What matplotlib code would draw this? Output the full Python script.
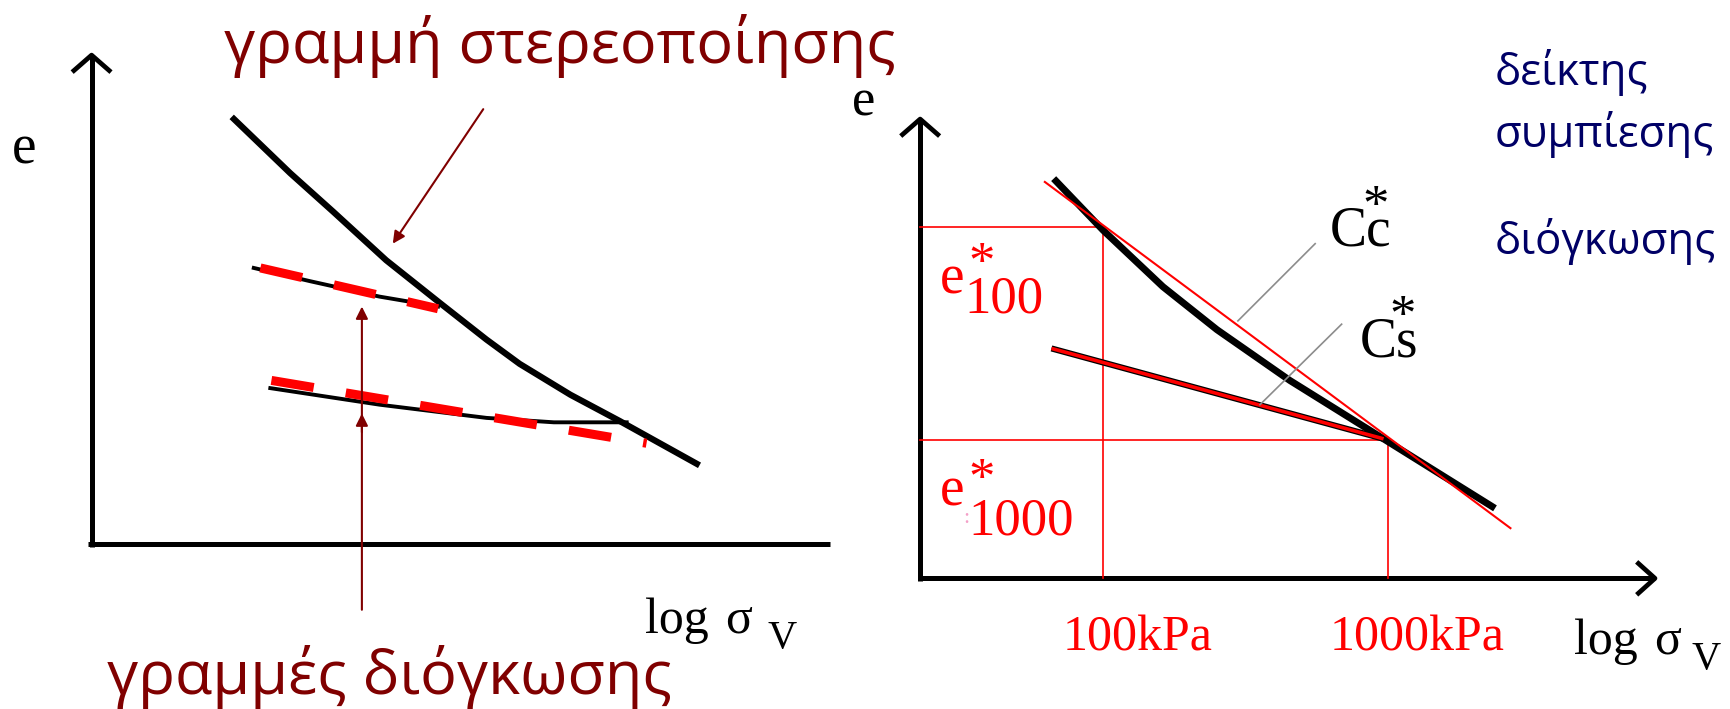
import matplotlib.pyplot as plt

# schematic drawn in a 1568 x 643 canvas frame (y grows downward)
W, H = 1568, 643

# left sketch: virgin compression line and two swelling lines
ncl_x = [210, 263, 302, 350, 399, 441, 471, 517, 562, 634]
ncl_y = [106, 157, 192, 236, 275, 308, 330, 358, 382, 422]
url_up_x = [230, 281, 344, 397]
url_up_y = [243, 255, 269, 278]
url_low_x = [245, 344, 441, 502, 568]
url_low_y = [352, 367, 379, 383, 383]
fit_up_x = [236, 397]
fit_up_y = [243, 280]
fit_low_x = [246, 586]
fit_low_y = [345, 402]

# right sketch
ncl2_x = [955, 1000, 1054, 1103, 1169, 1254, 1355]
ncl2_y = [162, 209, 260, 299, 345, 398, 461]
cc_fit_x = [947, 1369]
cc_fit_y = [165, 479]
url2_x = [953, 1254]
url2_y = [316, 398]
p100 = (1000, 206)
p1000 = (1258, 399)

title_top = 'γραμμή στερεοποίησης'
title_bottom = 'γραμμές διόγκωσης'
side_labels = ['δείκτης', 'συμπίεσης', 'διόγκωσης']
tick_labels = ['100kPa', '1000kPa']

darkred = '#800000'
navy = '#000066'
sans = ['Open Sans', 'DejaVu Sans']
serif = ['Liberation Serif', 'DejaVu Serif']

fig = plt.figure(figsize=(17.3, 7.09), dpi=100)
ax = fig.add_axes([0, 0, 1, 1])
ax.set_xlim(0, W)
ax.set_ylim(H, 0)
ax.axis('off')

# ---- left axes ----
ax.plot([83, 83], [496, 50], color='black', lw=3.6, solid_capstyle='butt')
ax.plot([80, 752], [493, 493], color='black', lw=3.6, solid_capstyle='butt')
ax.plot([67, 83, 99], [64, 50, 64], color='black', lw=3.4)

ax.plot(ncl_x, ncl_y, color='black', lw=4.5, solid_capstyle='butt')
ax.plot(url_up_x, url_up_y, color='black', lw=2.8)
ax.plot(url_low_x, url_low_y, color='black', lw=2.8)
ax.plot(fit_up_x, fit_up_y, color='red', lw=6.5, ls=(0, (4.75, 3.6)))
ax.plot(fit_low_x, fit_low_y, color='red', lw=6.5, ls=(0, (4.75, 3.6)))

ax.text(22, 148, 'e', family=serif, fontsize=40, ha='center', va='baseline')
ax.text(585, 574, 'log', family=serif, fontsize=36, ha='left', va='baseline')
ax.text(657, 574, 'σ', family=serif, fontsize=36, ha='left', va='baseline')
ax.text(696, 588, 'V', family=serif, fontsize=29, ha='left', va='baseline')

# annotation arrows
arrow_kw = dict(arrowstyle='-|>', color=darkred, lw=1.5,
                mutation_scale=18, shrinkA=0, shrinkB=0)
ax.annotate('', xy=(356, 221), xytext=(438, 99), arrowprops=arrow_kw)
ax.annotate('', xy=(328, 278), xytext=(328, 553), arrowprops=arrow_kw)
ax.annotate('', xy=(328, 375), xytext=(328, 392), arrowprops=arrow_kw)

ax.text(507, 57, title_top, family=sans, color=darkred, fontsize=44,
        ha='center', va='baseline')
ax.text(353, 629, title_bottom, family=sans, color=darkred, fontsize=44,
        ha='center', va='baseline')

# ---- right axes ----
ax.plot([834, 834], [527, 108], color='black', lw=3.6, solid_capstyle='butt')
ax.plot([832, 1500], [524.5, 524.5], color='black', lw=3.6, solid_capstyle='butt')
ax.plot([818, 834, 850], [122, 108, 122], color='black', lw=3.4)
ax.plot([1485, 1500, 1485], [511, 524.5, 538], color='black', lw=3.4)

# reference lines at 100 and 1000 kPa
ax.plot([834, p100[0], p100[0]], [p100[1], p100[1], 524], color='red', lw=1.2)
ax.plot([834, p1000[0], p1000[0]], [p1000[1], p1000[1], 524], color='red', lw=1.2)

ax.plot(ncl2_x, ncl2_y, color='black', lw=5, solid_capstyle='butt')
ax.plot(cc_fit_x, cc_fit_y, color='red', lw=1.5)
ax.plot(url2_x, url2_y, color='black', lw=4.4, solid_capstyle='butt')
ax.plot(url2_x, url2_y, color='red', lw=2.6, solid_capstyle='butt')

# leaders to the index labels
ax.plot([1192, 1122], [221, 291], color='#8c8c8c', lw=1.2)
ax.plot([1216, 1142], [294, 367], color='#8c8c8c', lw=1.2)

ax.text(783, 105, 'e', family=serif, fontsize=38, ha='center', va='baseline')
ax.text(1427, 593, 'log', family=serif, fontsize=36, ha='left', va='baseline')
ax.text(1499, 593, 'σ', family=serif, fontsize=36, ha='left', va='baseline')
ax.text(1533, 607, 'V', family=serif, fontsize=29, ha='left', va='baseline')

ax.text(1205, 223, 'Cc', family=serif, fontsize=40, ha='left', va='baseline')
ax.text(1247, 200, '*', family=serif, fontsize=38, ha='center', va='baseline')
ax.text(1232, 323, 'Cs', family=serif, fontsize=40, ha='left', va='baseline')
ax.text(1271, 300, '*', family=serif, fontsize=38, ha='center', va='baseline')

# e*100 and e*1000 labels
ax.text(852, 266, 'e', family=serif, color='red', fontsize=40, ha='left', va='baseline')
ax.text(890, 252, '*', family=serif, color='red', fontsize=38, ha='center', va='baseline')
ax.text(874, 283, '100', family=serif, color='red', fontsize=38, ha='left', va='baseline')
ax.text(852, 458, 'e', family=serif, color='red', fontsize=40, ha='left', va='baseline')
ax.text(890, 448, '*', family=serif, color='red', fontsize=38, ha='center', va='baseline')
ax.text(878, 485, '1000', family=serif, color='red', fontsize=38, ha='left', va='baseline')
ax.text(876, 474, ':', family=serif, color='#f4a0c8', fontsize=16, ha='center', va='baseline')

ax.text(963, 590, tick_labels[0], family=serif, color='red', fontsize=36,
        ha='left', va='baseline')
ax.text(1205, 590, tick_labels[1], family=serif, color='red', fontsize=36,
        ha='left', va='baseline')

for lbl, yb in zip(side_labels, [77, 133, 230]):
    ax.text(1355, yb, lbl, family=sans, color=navy, fontsize=31.5,
            ha='left', va='baseline')

fig.savefig('out.png', dpi=100)
